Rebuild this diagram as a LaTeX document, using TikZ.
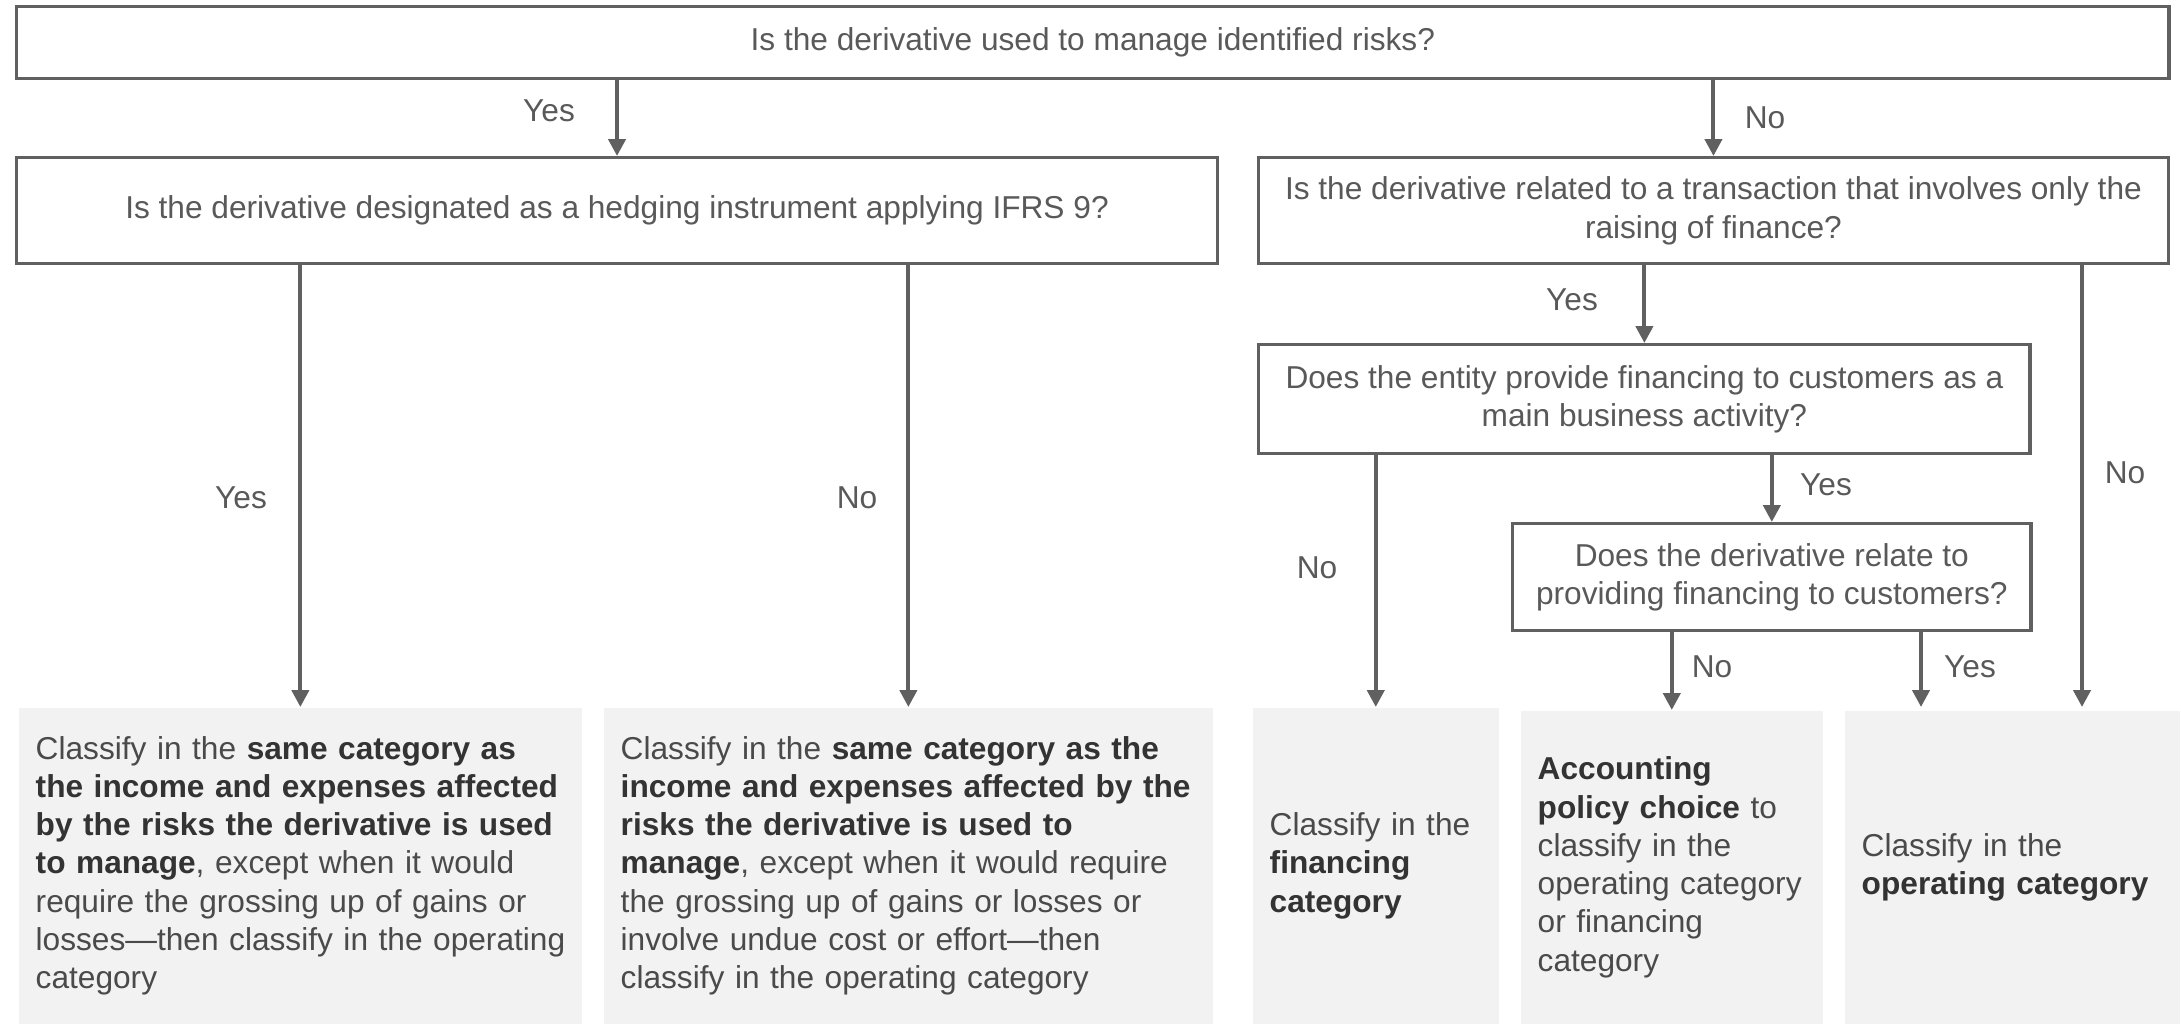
\documentclass[tikz,border=0pt]{standalone}
\usepackage{fontspec}
\setmainfont{Liberation Sans}
\usepackage{xcolor}
\usetikzlibrary{arrows.meta}

\definecolor{linegray}{HTML}{606060}
\definecolor{qgray}{HTML}{595959}
\definecolor{rgray}{HTML}{4A4A4A}
\definecolor{bgray}{HTML}{333333}
\definecolor{boxfill}{HTML}{F2F2F2}
\newcommand{\boldtxt}[1]{\textbf{\color{bgray}#1}}

\tikzset{
  qbox/.style={draw=linegray, line width=0.95pt, anchor=north west, align=center,
    text=qgray, inner sep=0pt, font=\fontsize{9}{10.9}\selectfont},
  rbox/.style={fill=boxfill, anchor=north west, align=left, text=rgray,
    inner xsep=0.17cm, inner ysep=0pt, font=\fontsize{9}{10.9}\selectfont},
  lbl/.style={text=qgray, inner sep=0pt, font=\fontsize{9}{10.9}\selectfont},
  flow/.style={draw=linegray, line width=1.15pt, -{Triangle[length=4.8pt,width=4.8pt]}}
}

\begin{document}
\begin{tikzpicture}[x=0.01cm, y=-0.01cm]
  \useasboundingbox (0,0) rectangle (2181,1023);
% questions
  \node[qbox, minimum width=21.51cm, minimum height=0.72cm] (q0) at (15,5)
    {Is the derivative used to manage identified risks?};
  \node[qbox, minimum width=12.00cm, minimum height=1.06cm] (q1) at (15,156)
    {Is the derivative designated as a hedging instrument applying IFRS 9?};
  \node[qbox, minimum width=9.09cm, minimum height=1.06cm] (q2) at (1257,156)
    {Is the derivative related to a transaction that involves only the\\raising of finance?};
  \node[qbox, minimum width=7.71cm, minimum height=1.09cm] (q3) at (1257,343)
    {Does the entity provide financing to customers as a\\main business activity?};
  \node[qbox, minimum width=5.18cm, minimum height=1.07cm] (q4) at (1511,522)
    {Does the derivative relate to\\providing financing to customers?};
% results
  \node[rbox, text width=5.29cm, minimum height=3.16cm] (r1) at (18,707)
    {Classify in the \boldtxt{same category as}\\
     \boldtxt{the income and expenses affected}\\
     \boldtxt{by the risks the derivative is used}\\
     \boldtxt{to manage}, except when it would\\
     require the grossing up of gains or\\
     \mbox{losses—then classify in the operating}\\
     category};
  \node[rbox, text width=5.75cm, minimum height=3.16cm] (r2) at (603,707)
    {Classify in the \boldtxt{same category as the}\\
     \boldtxt{income and expenses affected by the}\\
     \boldtxt{risks the derivative is used to}\\
     \boldtxt{manage}, except when it would require\\
     the grossing up of gains or losses or\\
     involve undue cost or effort—then\\
     classify in the operating category};
  \node[rbox, text width=2.12cm, minimum height=3.16cm] (r3) at (1252,707)
    {Classify in the\\\boldtxt{financing}\\\boldtxt{category}};
  \node[rbox, text width=2.68cm, minimum height=3.13cm] (r4) at (1520,710)
    {\boldtxt{Accounting}\\\boldtxt{policy choice} to\\classify in the\\operating category\\or financing\\category};
  \node[rbox, text width=3.01cm, minimum height=3.13cm] (r5) at (1844,710)
    {Classify in the\\\boldtxt{operating category}};
  \coordinate (in5a) at (1921,707);
  \coordinate (in5b) at (2082,707);
% connectors
  \draw[flow] (q0.south -| q1.north) -- (q1.north);
  \draw[flow] (q0.south -| q2.north) -- (q2.north);
  \draw[flow] (q1.south -| r1.north) -- (r1.north);
  \draw[flow] (q1.south -| r2.north) -- (r2.north);
  \draw[flow] (q2.south -| q3.north) -- (q3.north);
  \draw[flow] (q2.south -| in5b) -- (in5b);
  \draw[flow] (q3.south -| r3.north) -- (r3.north);
  \draw[flow] (q3.south -| q4.north) -- (q4.north);
  \draw[flow] (q4.south -| r4.north) -- (r4.north);
  \draw[flow] (q4.south -| in5a) -- (in5a);
% labels
  \node[lbl] (yes0) at (549,111) {Yes};
  \node[lbl] (no0) at (1765,118) {No};
  \node[lbl] (yes1) at (241,498) {Yes};
  \node[lbl] (no1) at (857,498) {No};
  \node[lbl] (yes2) at (1572,300) {Yes};
  \node[lbl] (no2) at (2125,473) {No};
  \node[lbl] (no3) at (1317,568) {No};
  \node[lbl] (yes3) at (1826,485) {Yes};
  \node[lbl] (no4) at (1712,667) {No};
  \node[lbl] (yes4) at (1970,667) {Yes};
\end{tikzpicture}
\end{document}
